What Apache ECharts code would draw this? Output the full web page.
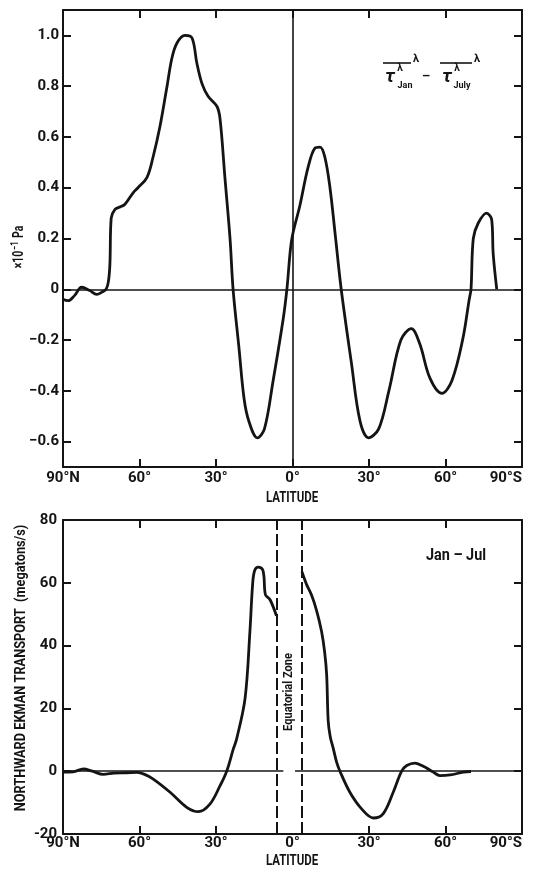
<!DOCTYPE html>
<html>
<head>
<meta charset="utf-8">
<script src="https://cdn.jsdelivr.net/npm/echarts@6/dist/echarts.min.js"></script>
<style>
html,body{margin:0;padding:0;background:#fff;}
#chart{width:534px;height:876px;}
</style>
</head>
<body>
<div id="chart"></div>
<script>
// ---------- data ----------
const latTicks = [-90, -60, -30, 0, 30, 60, 90];
const latTickLabels = ['90°N', '60°', '30°', '0°', '30°', '60°', '90°S'];
const lowerFrameTicks = [-60, -30, 30, 60];

// upper panel: zonal-mean wind stress difference, Jan - July (x10^-1 Pa)
const tauLat = [-90,-88,-85.5,-82.7,-79.5,-76.8,-74.5,-73.1,-72.2,-71.6,-71.1,-69.6,-67.5,-65.7,-62.5,-60.6,-57.1,-54.7,-52.0,-49.2,-47.3,-45.3,-42.2,-39.4,-37.5,-35.5,-33.1,-29.6,-28.4,-26.5,-24.5,-23.3,-21.0,-19.0,-17.1,-13.8,-11.0,-7.6,-3.7,-2.2,-0.3,2.9,6.1,8.8,10.8,12.7,14.7,16.7,19.1,23.1,26.5,29.8,33.8,37.8,42.5,46.6,49.9,53.9,58.6,62.5,66.7,69.3,70.0,70.9,72.8,76.1,78.1,78.7,80.1];
const tauDiff = [-0.04,-0.045,-0.025,0.008,-0.005,-0.02,-0.01,0.0,0.03,0.1,0.28,0.315,0.325,0.335,0.38,0.40,0.44,0.52,0.64,0.80,0.91,0.97,1.0,0.99,0.89,0.81,0.76,0.72,0.67,0.44,0.2,0.0,-0.23,-0.43,-0.52,-0.585,-0.55,-0.36,-0.12,0.0,0.196,0.33,0.48,0.556,0.56,0.52,0.40,0.22,0.0,-0.29,-0.52,-0.585,-0.55,-0.40,-0.20,-0.155,-0.215,-0.35,-0.41,-0.36,-0.2,-0.04,0.0,0.2,0.26,0.30,0.275,0.14,0.0];
const tauTicks = [-0.6, -0.4, -0.2, 0, 0.2, 0.4, 0.6, 0.8, 1.0];
const tauTickLabels = ['−0.6', '−0.4', '−0.2', '0', '0.2', '0.4', '0.6', '0.8', '1.0'];

// lower panel: northward Ekman transport, Jan - Jul (megatons/s)
const ekmanLatN = [-90,-86,-82,-78.5,-74.2,-70,-65,-61,-58,-54.6,-48,-41.5,-36.9,-32.4,-28.4,-25.8,-23.2,-21.9,-18.6,-16.7,-15.6,-14.8,-13.4,-11.8,-11.2,-10.6,-8.8,-6.3];
const ekmanValN = [-0.3,-0.2,0.7,0.0,-1.0,-0.6,-0.5,-0.4,-1.0,-2.5,-6.7,-11.5,-12.9,-10.5,-4.6,0,7.1,10.3,23.2,44.5,60,64,65,64.3,62,56.2,54.6,49.5];
const ekmanLatS = [3.7,5.5,7.5,9.5,11.4,12.6,13.4,14.0,14.8,16.0,17.3,18.6,22.5,27.1,31.7,35.6,39.5,42.8,44.8,48.0,51.9,55.2,57.8,61.8,67,70];
const ekmanValS = [63.5,59.5,56,51,44.5,38,30.6,16,11,7.2,2.9,0,-6.7,-12,-14.9,-13.5,-6.7,0,1.8,2.6,1.3,-0.3,-1.4,-1.2,-0.3,-0.1];
const ekmanTicks = [-20, 0, 20, 40, 60, 80];
const ekmanTickLabels = ['-20', '0', '20', '40', '60', '80'];
const equatorialZone = [-6.3, 3.7];

// ---------- styling ----------
const FONT = 'Roboto,"Liberation Sans",sans-serif';
const INK = '#141414';

function latLabel(v) {
  const i = latTicks.indexOf(Math.round(v));
  return i >= 0 ? latTickLabels[i] : '';
}
function pairs(xs, ys) { return xs.map((x, i) => [x, ys[i]]); }

function xAxisDef(gridIndex, pos, showLabels, margin, tickValues) {
  return {
    type: 'value', gridIndex, position: pos, min: -90, max: 90, interval: 30,
    axisLine: { show: true, onZero: false, lineStyle: { color: INK, width: 2 } },
    axisTick: { show: true, inside: true, length: 8, customValues: tickValues, lineStyle: { color: INK, width: 2 } },
    axisLabel: { show: showLabels, customValues: latTicks, formatter: latLabel, margin: margin, color: INK,
      fontFamily: FONT, fontWeight: 'bold', fontSize: 15, alignMaxLabel: 'right' },
    splitLine: { show: false }
  };
}
function yAxisDef(gridIndex, pos, min, max, ticks, labels, showLabels, margin) {
  return {
    type: 'value', gridIndex, position: pos, min, max,
    axisLine: { show: true, onZero: false, lineStyle: { color: INK, width: 2 } },
    axisTick: { show: true, inside: true, length: 8, customValues: ticks, lineStyle: { color: INK, width: 2 } },
    axisLabel: { show: showLabels, customValues: ticks, margin: margin, color: INK,
      fontFamily: FONT, fontWeight: 'bold', fontSize: 15,
      formatter: v => { let i = ticks.findIndex(t => Math.abs(t - v) < 1e-6); return i >= 0 ? labels[i] : ''; } },
    splitLine: { show: false }
  };
}

const lineStyle = { color: INK, width: 2.8 };

function txt(x, y, text, size, opts) {
  opts = opts || {};
  return {
    type: 'text', x, y, rotation: opts.rotation || 0, scaleX: opts.sx || 1, silent: true,
    style: {
      text, fill: INK,
      font: (opts.italic ? 'italic ' : '') + 'bold ' + size + 'px ' + FONT,
      textAlign: opts.align || 'center', textVerticalAlign: 'middle',
      rich: opts.rich
    }
  };
}
function hline(x1, x2, y) {
  return { type: 'line', silent: true, shape: { x1, y1: y, x2, y2: y }, style: { stroke: INK, lineWidth: 1.6 } };
}

const chart = echarts.init(document.getElementById('chart'), null, { renderer: 'canvas' });

chart.setOption({
  animation: false,
  backgroundColor: '#ffffff',
  grid: [
    { left: 63, top: 10, width: 459, height: 457 },
    { left: 63, top: 520, width: 459, height: 314 }
  ],
  xAxis: [
    xAxisDef(0, 'bottom', true, 4, latTicks),
    xAxisDef(0, 'top', false, 4, latTicks),
    xAxisDef(1, 'bottom', true, 2, lowerFrameTicks),
    xAxisDef(1, 'top', false, 2, lowerFrameTicks)
  ],
  yAxis: [
    yAxisDef(0, 'left', -0.7, 1.1, tauTicks, tauTickLabels, true, 4),
    yAxisDef(0, 'right', -0.7, 1.1, tauTicks, tauTickLabels, false, 4),
    yAxisDef(1, 'left', -20, 80, ekmanTicks, ekmanTickLabels, true, 6),
    yAxisDef(1, 'right', -20, 80, ekmanTicks, ekmanTickLabels, false, 6)
  ],
  series: [
    {
      type: 'line', xAxisIndex: 0, yAxisIndex: 0, data: pairs(tauLat, tauDiff),
      showSymbol: false, smooth: 0.35, lineStyle, silent: true,
      markLine: {
        silent: true, symbol: 'none', label: { show: false },
        lineStyle: { color: INK, width: 1.6, type: 'solid' },
        data: [{ yAxis: 0 }, { xAxis: 0 }]
      }
    },
    {
      type: 'line', xAxisIndex: 2, yAxisIndex: 2, data: pairs(ekmanLatN, ekmanValN),
      showSymbol: false, smooth: 0.35, lineStyle, silent: true,
      markLine: {
        silent: true, symbol: 'none', label: { show: false },
        lineStyle: { color: INK, width: 1.6, type: 'solid' },
        data: [
          [{ coord: [-90, 0] }, { coord: [-3.6, 0] }],
          [{ coord: [1.0, 0] }, { coord: [90, 0] }],
          { xAxis: equatorialZone[0], lineStyle: { type: [12, 4], width: 2 } },
          { xAxis: equatorialZone[1], lineStyle: { type: [12, 4], width: 2 } }
        ]
      }
    },
    {
      type: 'line', xAxisIndex: 2, yAxisIndex: 2, data: pairs(ekmanLatS, ekmanValS),
      showSymbol: false, smooth: 0.35, lineStyle, silent: true
    }
  ],
  graphic: [
    // upper axis titles
    txt(19, 247, '×10{s|−1} Pa', 14, { rotation: Math.PI / 2, sx: 0.75,
      rich: { s: { fontSize: 10, fontWeight: 'bold', fontFamily: FONT, verticalAlign: 'top', padding: [0, 1, 7, 1] } } }),
    txt(292, 498, 'LATITUDE', 14, { sx: 0.82 }),
    // formula  tau_Jan - tau_July
    hline(383, 411, 63),
    txt(416, 59, 'λ', 11),
    txt(390, 77, 'τ', 19, { italic: true }),
    txt(400, 68, 'λ', 10),
    txt(405, 86, 'Jan', 9),
    txt(426, 77, '–', 13),
    hline(440, 472, 63),
    txt(477, 59, 'λ', 11),
    txt(447, 77, 'τ', 19, { italic: true }),
    txt(457, 68, 'λ', 10),
    txt(462, 86, 'July', 9),
    // lower panel texts
    txt(456, 556, 'Jan – Jul', 17, { sx: 0.85 }),
    txt(288.5, 692, 'Equatorial Zone', 12, { rotation: Math.PI / 2, sx: 0.92 }),
    txt(21, 668, 'NORTHWARD EKMAN TRANSPORT  (megatons/s)', 15, { rotation: Math.PI / 2, sx: 0.85 }),
    txt(292, 861, 'LATITUDE', 14, { sx: 0.82 })
  ]
});
</script>
</body>
</html>
